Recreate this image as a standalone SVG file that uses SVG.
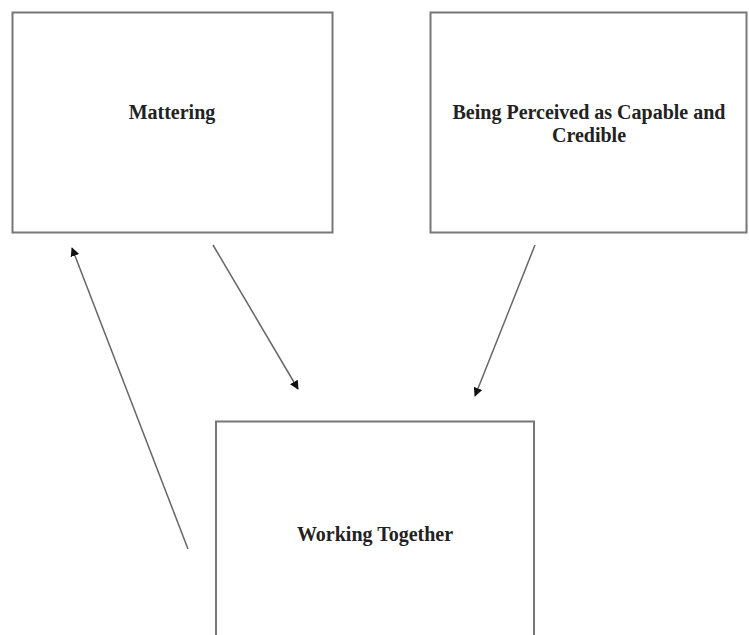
<svg xmlns="http://www.w3.org/2000/svg" width="749" height="635" viewBox="0 0 749 635">
<style>
.box{fill:#fff;stroke:#777;stroke-width:2}
.lbl{font-family:"Liberation Serif","Times New Roman",serif;font-weight:bold;font-size:20px;fill:#222;text-anchor:middle}
.con{stroke:#666;stroke-width:1.5;fill:none;marker-end:url(#ah)}
</style>
<defs>
<marker id="ah" viewBox="0 0 10 10" refX="9" refY="5" markerWidth="9" markerHeight="9" markerUnits="userSpaceOnUse" orient="auto">
<path d="M0,0 L10,5 L0,10 z" fill="#111"/>
</marker>
</defs>
<rect width="749" height="635" fill="#fff"/>
<g id="mattering">
<rect class="box" x="12.5" y="12.5" width="320" height="220"/>
<text class="lbl" x="172" y="119">Mattering</text>
</g>
<g id="perceived">
<rect class="box" x="430.5" y="12.5" width="316" height="220"/>
<text class="lbl" x="589" y="119">Being Perceived as Capable and</text>
<text class="lbl" x="589" y="142">Credible</text>
</g>
<g id="working">
<rect class="box" x="216" y="421.5" width="318" height="230"/>
<text class="lbl" x="375" y="541">Working Together</text>
</g>
<g id="connectors">
<line class="con" x1="188" y1="549" x2="72" y2="248"/>
<line class="con" x1="213" y1="245" x2="298" y2="389"/>
<line class="con" x1="535" y1="245" x2="475" y2="396"/>
</g>
</svg>
